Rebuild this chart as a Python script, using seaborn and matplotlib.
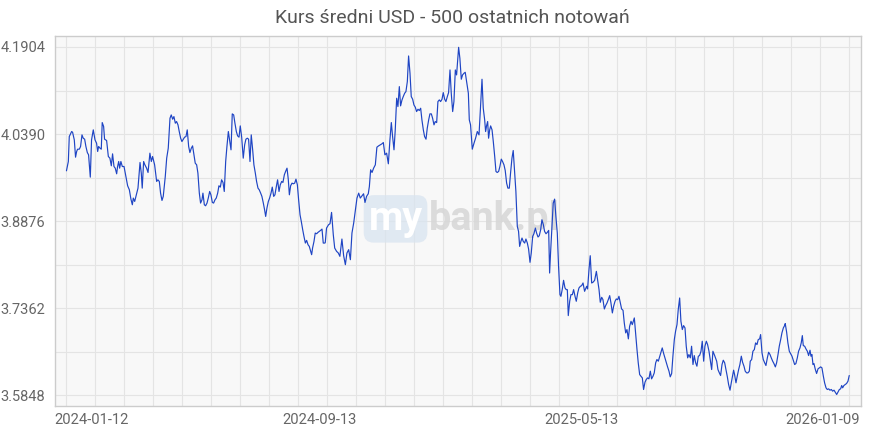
import numpy as np
import pandas as pd
import matplotlib
matplotlib.use("Agg")
import matplotlib.pyplot as plt
import matplotlib.transforms as mtransforms
import seaborn as sns

title = "Kurs średni USD - 500 ostatnich notowań"
date_labels = ["2024-01-12", "2024-09-13", "2025-05-13", "2026-01-09"]
rate_ticks = [3.5848, 3.7362, 3.8876, 4.0390, 4.1904]
n_quotes = 500

# quote number (0 = oldest of the 500) and mid rate
quote_no = [
    0.0, 1.2, 1.8, 3.3, 3.9, 5.0, 5.8, 6.5, 7.1, 8.2,
    9.0, 9.9, 10.7, 11.6, 12.4, 13.3, 14.1, 15.2, 16.0, 17.1,
    18.2, 19.2, 19.9, 20.5, 21.4, 22.2, 22.8, 23.7, 24.3, 25.6,
    26.7, 27.7, 28.6, 29.4, 30.3, 31.1, 32.0, 32.6, 33.3, 33.9,
    34.7, 35.6, 36.7, 37.9, 39.0, 40.1, 41.1, 42.0, 42.6, 43.5,
    44.3, 45.6, 46.9, 47.7, 48.3, 49.2, 50.0, 51.1, 52.0, 53.2,
    54.1, 54.9, 56.2, 57.5, 58.3, 59.2, 60.0, 60.9, 61.7, 63.0,
    63.9, 64.9, 66.0, 66.8, 67.7, 68.5, 69.4, 70.2, 71.1, 71.9,
    72.8, 73.6, 74.5, 75.3, 76.2, 77.0, 77.9, 78.7, 79.6, 80.4,
    81.3, 81.9,
    82.1, 83.0, 83.8, 84.7, 85.5, 86.4, 87.0, 87.9, 88.7, 89.6,
    90.4, 91.3, 92.1, 93.0, 93.8, 94.7, 95.5, 96.4, 97.2, 98.1,
    98.9, 99.8, 100.6, 101.5, 102.3, 103.2, 104.0, 104.9, 105.7, 106.6,
    107.4, 108.3, 109.1, 110.0, 110.8, 111.7, 112.7, 113.6, 114.4, 115.3,
    116.1, 117.0, 117.8, 118.7, 119.5, 120.4, 121.2, 122.1, 122.9, 123.8,
    124.6, 125.5, 126.3, 127.0, 127.8, 128.7, 129.5, 130.4, 131.2, 132.1,
    132.9, 133.8, 134.6, 135.5, 136.3, 137.2, 138.0, 138.9, 139.7, 140.6,
    141.4, 142.1, 142.9, 143.8, 144.6, 145.5, 146.3, 147.2, 148.0, 148.9,
    149.7, 150.6, 151.4, 152.3, 153.1, 154.0, 154.8, 155.7, 156.3, 156.9,
    157.8, 158.6, 159.5, 160.3, 161.2, 162.0, 162.9, 163.7, 164.8,
    165.0, 165.8, 167.1, 168.0, 169.0, 170.1, 171.0, 172.2, 173.3, 174.3,
    175.6, 176.7, 177.8, 178.8, 179.9, 181.0, 182.0, 183.1, 184.1, 185.2,
    186.3, 187.3, 188.4, 189.4, 190.3, 191.3, 192.4, 193.1, 193.9, 194.8,
    195.8, 196.9, 197.9, 199.0, 200.1, 201.1, 202.0, 203.0, 204.1, 205.2,
    206.2, 207.1, 207.9, 208.8, 209.6, 210.5, 211.3, 212.2, 213.0, 213.9,
    214.7, 215.6, 216.4, 217.3, 218.1, 219.0, 219.8, 220.7, 221.5, 222.4,
    223.2, 224.1, 224.9, 225.8, 226.6, 227.5, 228.3, 229.2, 230.0, 230.9,
    231.7, 232.6, 233.4, 234.3, 235.1, 236.0, 236.8, 237.7, 238.5, 239.4,
    240.2, 241.1, 241.9, 242.8, 243.6, 244.5, 245.3, 246.2, 247.0,
    247.9, 248.7, 249.4, 250.0, 250.8, 251.7, 252.5, 253.4, 254.2, 255.1,
    256.2, 256.8, 257.6, 258.7, 259.8, 260.8, 261.9, 263.0, 264.0, 264.9,
    265.7, 266.6, 267.2, 267.8, 268.5, 269.1, 269.8, 270.4, 271.3, 272.1,
    273.0, 273.8, 274.6, 275.5, 276.3, 277.2, 278.0, 278.9, 279.7, 280.6,
    281.4, 282.3, 283.1, 284.0, 284.8, 285.7, 286.5, 287.4, 288.2, 288.9,
    289.7, 290.4, 291.2, 292.1, 292.9, 293.8, 294.6, 295.5, 296.3, 297.2,
    298.0, 298.9, 299.7, 300.6, 301.4, 302.3, 303.1, 304.0, 304.8, 305.7,
    306.5, 307.4, 308.0, 308.6, 309.5, 310.3, 311.2, 312.0, 312.9, 313.7,
    314.6, 315.2, 316.1, 316.9, 317.8, 318.6, 319.3, 319.9, 320.8, 321.6,
    322.5, 323.3, 324.2, 325.0, 325.9, 326.7, 327.6, 328.4, 329.3, 330.3,
    331.6, 332.2, 333.1, 333.9, 334.8, 335.6, 336.7, 337.8, 338.6, 339.5,
    340.3, 341.2, 342.0, 342.9, 343.7, 344.6, 345.4, 346.3, 347.1, 348.0,
    348.8, 349.7, 350.5, 351.4, 352.2, 353.1, 353.9, 354.8, 355.6, 356.5,
    357.3, 358.2, 359.0, 359.9, 360.7, 361.6, 362.0, 362.8, 363.7, 364.5,
    365.4, 366.2, 367.1, 367.9, 368.8, 369.6, 370.5, 371.3, 372.2, 373.0,
    373.9, 374.7, 375.6, 376.4, 377.3, 378.1, 379.0, 379.8, 380.7, 381.5,
    382.4, 383.2, 384.1, 384.9, 385.8, 386.6, 387.5, 388.3, 389.2, 390.0,
    390.9, 391.7, 392.6, 393.4, 394.3, 395.1, 396.0, 396.8, 397.7, 398.5,
    399.4, 400.2, 401.1, 401.9, 402.8, 403.6, 404.5, 405.3, 406.2, 407.0,
    407.9, 408.7, 409.6, 410.4, 411.3, 412.1, 413.2,
    414.5, 415.3, 416.2, 417.0, 417.9, 418.7, 419.6, 420.4, 421.3, 422.1,
    423.0, 423.8, 424.7, 425.3, 425.9, 426.8, 427.6, 428.5, 429.3, 430.2,
    431.0, 431.9, 432.7, 433.6, 434.4, 435.3, 435.9, 436.8, 437.6, 438.5,
    439.3, 440.2, 441.0, 441.9, 442.5, 443.4, 444.2, 445.1, 445.9, 446.8,
    447.6, 448.5, 449.3, 450.2, 451.0, 451.9, 452.7, 453.6, 454.4, 455.3,
    456.1, 457.0, 457.8, 458.2, 459.1, 459.9, 460.8, 461.6, 462.5, 463.3,
    464.2, 465.0, 465.9, 466.7, 467.6, 468.4, 469.1, 469.7, 470.6, 471.4,
    472.3, 473.1, 474.0, 474.6, 475.2, 475.9, 476.5, 477.4, 478.2, 479.1,
    479.9, 480.8, 481.6, 482.5, 483.3, 484.2, 485.0, 485.9, 486.7, 487.6,
    488.4, 489.3, 490.1, 491.0, 491.8, 492.7, 493.5, 494.2, 494.8, 495.6,
    496.5, 497.3, 498.2, 499.0,
]

usd_rate = [
    3.9751, 3.9913, 4.0347, 4.0434, 4.0422, 4.0289, 3.9988, 4.0087, 4.0127, 4.0127,
    4.0174, 4.0376, 4.0318, 4.0301, 4.0174, 4.0069, 4.0029, 3.9641, 4.0289, 4.0463,
    4.0289, 4.0231, 4.0087, 4.0174, 4.0145, 4.0127, 4.0590, 4.0521, 4.0301, 4.0278,
    4.0000, 3.9971, 3.9838, 4.0046, 3.9826, 3.9797, 3.9699, 3.9826, 3.9913, 3.9797,
    3.9913, 3.9826, 3.9826, 3.9653, 3.9491, 3.9421, 3.9259, 3.9161, 3.9277, 3.9219,
    3.9306, 3.9450, 3.9896, 3.9711, 3.9450, 3.9913, 3.9855, 3.9797, 3.9722, 4.0058,
    3.9913, 4.0000, 3.9855, 3.9566, 3.9595, 3.9566, 3.9363, 3.9236, 3.9306, 3.9653,
    3.9971, 4.0145, 4.0665, 4.0723, 4.0648, 4.0694, 4.0579, 4.0608, 4.0550, 4.0434,
    4.0318, 4.0260, 4.0301, 4.0336, 4.0347, 4.0463, 4.0174, 4.0069, 4.0145, 4.0185,
    4.0029, 3.9913,
    3.9884, 3.9855, 3.9711, 3.9363, 3.9190, 3.9248, 3.9363, 3.9161, 3.9143, 3.9190,
    3.9277, 3.9392, 3.9334, 3.9201, 3.9190, 3.9248, 3.9277, 3.9363, 3.9491, 3.9468,
    3.9595, 3.9549, 3.9392, 3.9913, 4.0174, 4.0434, 4.0289, 4.0116, 4.0741, 4.0723,
    4.0579, 4.0434, 4.0359, 4.0336, 4.0532, 4.0336, 3.9971, 4.0203, 4.0301, 4.0318,
    4.0301, 3.9913, 4.0376, 4.0116, 3.9855, 3.9711, 3.9566, 3.9450, 3.9421, 3.9363,
    3.9306, 3.9190, 3.9074, 3.8958, 3.9103, 3.9219, 3.9277, 3.9363, 3.9468, 3.9306,
    3.9334, 3.9479, 3.9595, 3.9392, 3.9508, 3.9566, 3.9549, 3.9682, 3.9740, 3.9797,
    3.9606, 3.9334, 3.9491, 3.9537, 3.9525, 3.9537, 3.9606, 3.9508, 3.9248, 3.8987,
    3.8871, 3.8727, 3.8611, 3.8495, 3.8542, 3.8466, 3.8437, 3.8351, 3.8293, 3.8409,
    3.8524, 3.8669, 3.8657, 3.8680, 3.8698, 3.8715, 3.8738, 3.8495, 3.8495,
    3.8507, 3.8756, 3.8814, 3.8831, 3.9028, 3.8640, 3.8408, 3.8351, 3.8322, 3.8264,
    3.8565, 3.8275, 3.8119, 3.8322, 3.8380, 3.8206, 3.8669, 3.8843, 3.9045, 3.9277,
    3.9363, 3.9277, 3.9317, 3.9352, 3.9201, 3.9306, 3.9352, 3.9479, 3.9769, 3.9722,
    3.9797, 3.9855, 4.0162, 4.0185, 4.0203, 4.0220, 4.0243, 4.0029, 4.0058, 3.9873,
    4.0289, 4.0590, 4.0347, 4.0116, 4.0463, 4.1013, 4.0868, 4.1215, 4.0880, 4.0984,
    4.1042, 4.1100, 4.1128, 4.1302, 4.1748, 4.1447, 4.1042, 4.0995, 4.0897, 4.0856,
    4.0781, 4.0822, 4.0799, 4.0839, 4.0637, 4.0463, 4.0347, 4.0301, 4.0492, 4.0637,
    4.0741, 4.0741, 4.0666, 4.0550, 4.0608, 4.0590, 4.0955, 4.0984, 4.0955, 4.0995,
    4.1111, 4.0995, 4.0955, 4.1042, 4.1111, 4.1505, 4.1100, 4.0781, 4.0955,
    4.1505, 4.1418, 4.1678, 4.1898, 4.1707, 4.1343, 4.1418, 4.1447, 4.1464, 4.1302,
    4.1100, 4.0637, 4.0550, 4.0127, 4.0231, 4.0318, 4.0434, 4.0376, 4.0868, 4.1343,
    4.0839, 4.0637, 4.0434, 4.0532, 4.0608, 4.0318, 4.0463, 4.0532, 4.0463, 4.0260,
    4.0000, 3.9740, 3.9722, 3.9740, 3.9826, 3.9954, 3.9913, 3.9855, 3.9757, 3.9537,
    3.9450, 3.9450, 3.9711, 3.9971, 4.0104, 3.9740, 3.9392, 3.8785, 3.8698, 3.8437,
    3.8524, 3.8582, 3.8524, 3.8495, 3.8565, 3.8495, 3.8391, 3.8160, 3.8322, 3.8611,
    3.8657, 3.8756, 3.8669, 3.8600, 3.8623, 3.8727, 3.8900, 3.8814, 3.8698, 3.8657,
    3.8680, 3.8715, 3.7974, 3.8322, 3.8785, 3.9190, 3.9259, 3.8958, 3.8669, 3.8090,
    3.7598, 3.7569, 3.7697, 3.7847, 3.7714, 3.7685, 3.7685, 3.7234, 3.7483, 3.7598,
    3.7598, 3.7685, 3.7569, 3.7483, 3.7627, 3.7714, 3.7743, 3.7754, 3.7801, 3.7656,
    3.7743, 3.7697, 3.8032, 3.8275, 3.7801, 3.7812, 3.7847, 3.8003, 3.7859, 3.7685,
    3.7465, 3.7552, 3.7511, 3.7349, 3.7407, 3.7454, 3.7511, 3.7581, 3.7454, 3.7280,
    3.7396, 3.7483, 3.7523, 3.7511, 3.7569, 3.7454, 3.7349, 3.7326, 3.7106, 3.6933,
    3.6991, 3.6829, 3.7048, 3.7135, 3.7077, 3.7153, 3.7193, 3.6933, 3.6643, 3.6412,
    3.6209, 3.6180, 3.6151, 3.5949, 3.6076, 3.6123, 3.6151, 3.6134, 3.6267, 3.6134,
    3.6180, 3.6238, 3.6412, 3.6470, 3.6441, 3.6516, 3.6597, 3.6672, 3.6574, 3.6499,
    3.6412, 3.6342, 3.6267, 3.6169, 3.6227, 3.6528, 3.6817, 3.6962, 3.7077, 3.7338,
    3.7540, 3.7135, 3.6991, 3.7060, 3.7020, 3.6701, 3.6499, 3.6557, 3.6499, 3.6701,
    3.6383, 3.6539, 3.6412, 3.6354, 3.6528, 3.6539, 3.6614, 3.6788, 3.6441, 3.6701,
    3.6788, 3.6730, 3.6614, 3.6470, 3.6296, 3.6614, 3.6539,
    3.6441, 3.6296, 3.6238, 3.6192, 3.6383, 3.6458, 3.6412, 3.6296, 3.6169, 3.6036,
    3.5937, 3.6065, 3.6192, 3.6285, 3.6209, 3.6065, 3.6180, 3.6296, 3.6383, 3.6528,
    3.6423, 3.6354, 3.6267, 3.6238, 3.6238, 3.6267, 3.6441, 3.6470, 3.6614, 3.6643,
    3.6759, 3.6730, 3.6817, 3.6829, 3.6904, 3.6585, 3.6470, 3.6412, 3.6366, 3.6499,
    3.6597, 3.6557, 3.6499, 3.6441, 3.6400, 3.6342, 3.6412, 3.6557, 3.6701, 3.6817,
    3.6933, 3.7020, 3.7060, 3.7095, 3.6944, 3.6759, 3.6614, 3.6574, 3.6528, 3.6458,
    3.6383, 3.6400, 3.6499, 3.6614, 3.6672, 3.6759, 3.6886, 3.6713, 3.6701, 3.6655,
    3.6614, 3.6539, 3.6632, 3.6528, 3.6557, 3.6383, 3.6400, 3.6296, 3.6227, 3.6308,
    3.6325, 3.6342, 3.6325, 3.6180, 3.6065, 3.5978, 3.5949, 3.5960, 3.5937, 3.5949,
    3.5920, 3.5937, 3.5903, 3.5862, 3.5903, 3.5949, 3.5960, 3.6018, 3.5978, 3.6018,
    3.6036, 3.6053, 3.6094, 3.6192,
]

assert len(quote_no) == len(usd_rate)
df = pd.DataFrame({"quote": quote_no, "rate": usd_rate})

sns.set_theme(style="white")
plt.rcParams["font.family"] = ["Roboto", "DejaVu Sans"]

W, H = 870, 430
fig = plt.figure(figsize=(W / 100, H / 100), dpi=100)
ax = fig.add_axes([55 / W, 24 / H, 806 / W, 370 / H])
ax.set_facecolor("#f8f8f8")

sns.lineplot(data=df, x="quote", y="rate", ax=ax, color="#1f45c4",
             linewidth=0.85, estimator=None, sort=False, zorder=4)

ax.set_xlim(-7.3, 506.5)
ax.set_ylim(3.5662, 4.2095)

ax.set_xticks(np.linspace(0, n_quotes - 1, len(date_labels)))
ax.set_xticks(np.linspace(0, n_quotes - 1, 28), minor=True)
ax.set_xticklabels(date_labels)
ax.set_yticks(rate_ticks)
ax.set_yticks(np.linspace(rate_ticks[0], rate_ticks[-1], 9), minor=True)
ax.set_yticklabels([f"{v:.4f}" for v in rate_ticks])

ax.grid(which="both", color="#e4e4e4", linewidth=0.8)
ax.set_axisbelow(True)
ax.tick_params(axis="both", which="minor", length=0)
ax.tick_params(axis="x", which="major", direction="in", length=4, width=0.8,
               color="#c4c4c4", labelsize=10.6, labelcolor="#666666", pad=5)
ax.tick_params(axis="y", which="major", direction="out", length=6, width=0.8,
               color="#c4c4c4", labelsize=10.5, labelcolor="#666666", pad=1)
for s in ax.spines.values():
    s.set_color("#cccccc")
    s.set_linewidth(1)
ax.set_xlabel("")
ax.set_ylabel("")

# first/last date labels stay inside the plot edges
shifts = [("left", -12), ("center", -8), ("center", -7), ("right", 11)]
for lab, (ha, dx) in zip(ax.get_xticklabels(), shifts):
    lab.set_ha(ha)
    lab.set_transform(lab.get_transform()
                      + mtransforms.ScaledTranslation(dx / 100, 0, fig.dpi_scale_trans))

# watermark
ax.text(0.4225, 0.476, "my", transform=ax.transAxes, ha="center", va="baseline",
        fontsize=28.5, fontweight="bold", color="white", zorder=2,
        bbox=dict(boxstyle="round,pad=0.12,rounding_size=0.25",
                  fc="#d9e4f0", ec="none", alpha=0.75))
ax.text(0.4640, 0.476, "bank.pl", transform=ax.transAxes, ha="left", va="baseline",
        fontsize=28.5, fontweight="bold", color="#d6d6d6", alpha=0.85, zorder=2)

fig.text(452 / W, 1 - 18 / H, title, ha="center", va="center",
         fontsize=14, color="#555555")

fig.savefig("out.png", dpi=100)
